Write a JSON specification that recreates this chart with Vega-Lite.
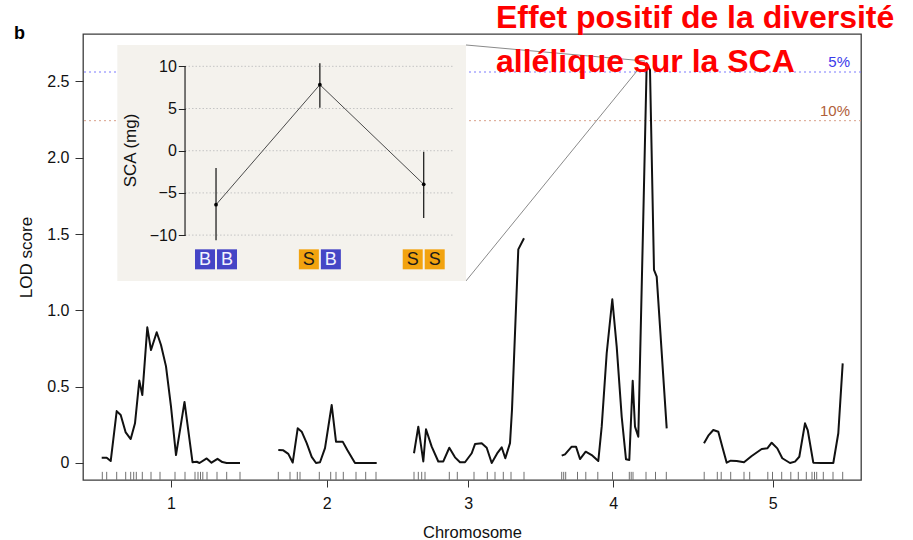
{
  "$schema": "https://vega.github.io/schema/vega-lite/v6.json",
  "width": 778,
  "height": 446,
  "autosize": {"type": "none"},
  "padding": {"left": 83, "top": 34, "right": 52, "bottom": 60},
  "background": "white",
  "config": {"font": "Liberation Sans", "view": {"stroke": "#3c3c3c", "strokeWidth": 1.3}},
  "datasets": {
    "lod": [
      {"chr": 1, "pos": 18.7, "lod": 0.035}, {"chr": 1, "pos": 23.7, "lod": 0.035}, {"chr": 1, "pos": 27.7, "lod": 0.013},
      {"chr": 1, "pos": 33.7, "lod": 0.34}, {"chr": 1, "pos": 37.7, "lod": 0.315}, {"chr": 1, "pos": 42.7, "lod": 0.2},
      {"chr": 1, "pos": 47.7, "lod": 0.157}, {"chr": 1, "pos": 52, "lod": 0.26}, {"chr": 1, "pos": 56.3, "lod": 0.54},
      {"chr": 1, "pos": 59.3, "lod": 0.445}, {"chr": 1, "pos": 64.3, "lod": 0.889}, {"chr": 1, "pos": 68, "lod": 0.74},
      {"chr": 1, "pos": 73.7, "lod": 0.857}, {"chr": 1, "pos": 78, "lod": 0.773}, {"chr": 1, "pos": 83, "lod": 0.633},
      {"chr": 1, "pos": 88, "lod": 0.369}, {"chr": 1, "pos": 93, "lod": 0.052}, {"chr": 1, "pos": 101.5, "lod": 0.4},
      {"chr": 1, "pos": 109.5, "lod": 0.005}, {"chr": 1, "pos": 113.7, "lod": 0.008}, {"chr": 1, "pos": 116.5, "lod": 0.0},
      {"chr": 1, "pos": 123.7, "lod": 0.03}, {"chr": 1, "pos": 128.5, "lod": 0.002}, {"chr": 1, "pos": 134.5, "lod": 0.027},
      {"chr": 1, "pos": 139.3, "lod": 0.006}, {"chr": 1, "pos": 143.7, "lod": 0.0}, {"chr": 1, "pos": 157, "lod": 0.0},
      {"chr": 2, "pos": 195.3, "lod": 0.085}, {"chr": 2, "pos": 200.3, "lod": 0.083}, {"chr": 2, "pos": 205.3, "lod": 0.06},
      {"chr": 2, "pos": 209.7, "lod": 0.003}, {"chr": 2, "pos": 214.7, "lod": 0.227}, {"chr": 2, "pos": 218.7, "lod": 0.205},
      {"chr": 2, "pos": 223.7, "lod": 0.13}, {"chr": 2, "pos": 228.7, "lod": 0.04}, {"chr": 2, "pos": 233, "lod": 0.0},
      {"chr": 2, "pos": 237, "lod": 0.005}, {"chr": 2, "pos": 242, "lod": 0.098}, {"chr": 2, "pos": 248.7, "lod": 0.38},
      {"chr": 2, "pos": 253, "lod": 0.14}, {"chr": 2, "pos": 259.7, "lod": 0.14}, {"chr": 2, "pos": 264.3, "lod": 0.085},
      {"chr": 2, "pos": 272, "lod": 0.0}, {"chr": 2, "pos": 293.7, "lod": 0.0},
      {"chr": 3, "pos": 331, "lod": 0.064}, {"chr": 3, "pos": 335.3, "lod": 0.238}, {"chr": 3, "pos": 340.3, "lod": 0.01},
      {"chr": 3, "pos": 343, "lod": 0.221}, {"chr": 3, "pos": 348.7, "lod": 0.107}, {"chr": 3, "pos": 355.3, "lod": 0.01},
      {"chr": 3, "pos": 360.3, "lod": 0.01}, {"chr": 3, "pos": 366.3, "lod": 0.1}, {"chr": 3, "pos": 372, "lod": 0.037},
      {"chr": 3, "pos": 377, "lod": 0.005}, {"chr": 3, "pos": 382, "lod": 0.005}, {"chr": 3, "pos": 388.7, "lod": 0.064},
      {"chr": 3, "pos": 392, "lod": 0.124}, {"chr": 3, "pos": 398.7, "lod": 0.129}, {"chr": 3, "pos": 403.7, "lod": 0.1},
      {"chr": 3, "pos": 408.7, "lod": 0.0}, {"chr": 3, "pos": 414.7, "lod": 0.068}, {"chr": 3, "pos": 418.7, "lod": 0.103},
      {"chr": 3, "pos": 422.3, "lod": 0.031}, {"chr": 3, "pos": 427, "lod": 0.13}, {"chr": 3, "pos": 429, "lod": 0.35},
      {"chr": 3, "pos": 435.3, "lod": 1.4}, {"chr": 3, "pos": 441, "lod": 1.473},
      {"chr": 4, "pos": 478.7, "lod": 0.048}, {"chr": 4, "pos": 482, "lod": 0.057}, {"chr": 4, "pos": 488.7, "lod": 0.107},
      {"chr": 4, "pos": 493, "lod": 0.107}, {"chr": 4, "pos": 497, "lod": 0.026}, {"chr": 4, "pos": 502.7, "lod": 0.074},
      {"chr": 4, "pos": 508.7, "lod": 0.052}, {"chr": 4, "pos": 515.3, "lod": 0.013}, {"chr": 4, "pos": 518.7, "lod": 0.238},
      {"chr": 4, "pos": 523.7, "lod": 0.719}, {"chr": 4, "pos": 529.3, "lod": 1.073}, {"chr": 4, "pos": 533.7, "lod": 0.762},
      {"chr": 4, "pos": 538.7, "lod": 0.303}, {"chr": 4, "pos": 543, "lod": 0.024}, {"chr": 4, "pos": 546.3, "lod": 0.02},
      {"chr": 4, "pos": 549.7, "lod": 0.539}, {"chr": 4, "pos": 552, "lod": 0.238}, {"chr": 4, "pos": 555.3, "lod": 0.172},
      {"chr": 4, "pos": 560.3, "lod": 1.614}, {"chr": 4, "pos": 563.7, "lod": 2.619}, {"chr": 4, "pos": 567, "lod": 2.575},
      {"chr": 4, "pos": 571, "lod": 1.265}, {"chr": 4, "pos": 573.7, "lod": 1.221}, {"chr": 4, "pos": 583.7, "lod": 0.227},
      {"chr": 5, "pos": 621, "lod": 0.129}, {"chr": 5, "pos": 625.3, "lod": 0.179}, {"chr": 5, "pos": 630.3, "lod": 0.216},
      {"chr": 5, "pos": 635.3, "lod": 0.205}, {"chr": 5, "pos": 639.3, "lod": 0.107}, {"chr": 5, "pos": 643.7, "lod": 0.002},
      {"chr": 5, "pos": 647.7, "lod": 0.015}, {"chr": 5, "pos": 653.7, "lod": 0.013}, {"chr": 5, "pos": 661, "lod": 0.005},
      {"chr": 5, "pos": 668.7, "lod": 0.046}, {"chr": 5, "pos": 678.7, "lod": 0.092}, {"chr": 5, "pos": 684.3, "lod": 0.096},
      {"chr": 5, "pos": 688.7, "lod": 0.133}, {"chr": 5, "pos": 694.3, "lod": 0.096}, {"chr": 5, "pos": 699.3, "lod": 0.031},
      {"chr": 5, "pos": 707, "lod": 0.0}, {"chr": 5, "pos": 712, "lod": 0.009}, {"chr": 5, "pos": 716.3, "lod": 0.041},
      {"chr": 5, "pos": 722, "lod": 0.26}, {"chr": 5, "pos": 724.7, "lod": 0.216}, {"chr": 5, "pos": 730.3, "lod": 0.002},
      {"chr": 5, "pos": 738.7, "lod": 0.0}, {"chr": 5, "pos": 750.3, "lod": 0.0}, {"chr": 5, "pos": 755.3, "lod": 0.195},
      {"chr": 5, "pos": 759.7, "lod": 0.653}
    ],
    "markers": [
      {"chr": 1, "pos": 19.3}, {"chr": 1, "pos": 23.7}, {"chr": 1, "pos": 33.7}, {"chr": 1, "pos": 42.7}, {"chr": 1, "pos": 47.7},
      {"chr": 1, "pos": 50.7}, {"chr": 1, "pos": 53.3}, {"chr": 1, "pos": 59.3}, {"chr": 1, "pos": 68}, {"chr": 1, "pos": 77},
      {"chr": 1, "pos": 92}, {"chr": 1, "pos": 102}, {"chr": 1, "pos": 112}, {"chr": 1, "pos": 115}, {"chr": 1, "pos": 117.5},
      {"chr": 1, "pos": 119.8}, {"chr": 1, "pos": 124}, {"chr": 1, "pos": 134}, {"chr": 1, "pos": 143.7}, {"chr": 1, "pos": 157},
      {"chr": 2, "pos": 195.3}, {"chr": 2, "pos": 207}, {"chr": 2, "pos": 214.3}, {"chr": 2, "pos": 217}, {"chr": 2, "pos": 236.3},
      {"chr": 2, "pos": 247.7}, {"chr": 2, "pos": 253}, {"chr": 2, "pos": 260.3}, {"chr": 2, "pos": 273}, {"chr": 2, "pos": 282.7},
      {"chr": 2, "pos": 293},
      {"chr": 3, "pos": 331}, {"chr": 3, "pos": 335.3}, {"chr": 3, "pos": 338.7}, {"chr": 3, "pos": 342}, {"chr": 3, "pos": 366.3},
      {"chr": 3, "pos": 374.3}, {"chr": 3, "pos": 391}, {"chr": 3, "pos": 404.3}, {"chr": 3, "pos": 412}, {"chr": 3, "pos": 420.3},
      {"chr": 3, "pos": 428}, {"chr": 3, "pos": 441},
      {"chr": 4, "pos": 478.7}, {"chr": 4, "pos": 480.7}, {"chr": 4, "pos": 482.7}, {"chr": 4, "pos": 494.5}, {"chr": 4, "pos": 502.8},
      {"chr": 4, "pos": 514.8}, {"chr": 4, "pos": 529.5}, {"chr": 4, "pos": 546.3}, {"chr": 4, "pos": 548.2}, {"chr": 4, "pos": 550},
      {"chr": 4, "pos": 563}, {"chr": 4, "pos": 572.5}, {"chr": 4, "pos": 583.3},
      {"chr": 5, "pos": 621.2}, {"chr": 5, "pos": 634.3}, {"chr": 5, "pos": 638.2}, {"chr": 5, "pos": 647.7}, {"chr": 5, "pos": 661},
      {"chr": 5, "pos": 666.7}, {"chr": 5, "pos": 684.8}, {"chr": 5, "pos": 689.5}, {"chr": 5, "pos": 698.7}, {"chr": 5, "pos": 707.8},
      {"chr": 5, "pos": 715.3}, {"chr": 5, "pos": 723.3}, {"chr": 5, "pos": 729}, {"chr": 5, "pos": 731.5}, {"chr": 5, "pos": 733.7},
      {"chr": 5, "pos": 740.3}, {"chr": 5, "pos": 750}, {"chr": 5, "pos": 759.7}
    ],
    "thresholds": [{"level": "5%", "lod": 2.562}, {"level": "10%", "lod": 2.243}],
    "effects": [
      {"geno": "BB", "g": 1, "sca": -6.4, "lo": -10.6, "hi": -2.05},
      {"geno": "SB", "g": 2, "sca": 7.82, "lo": 5.1, "hi": 10.35},
      {"geno": "SS", "g": 3, "sca": -3.98, "lo": -7.97, "hi": -0.12}
    ],
    "alleles": [
      {"geno": "BB", "g": 1, "slot": "L", "allele": "B"}, {"geno": "BB", "g": 1, "slot": "R", "allele": "B"},
      {"geno": "SB", "g": 2, "slot": "L", "allele": "S"}, {"geno": "SB", "g": 2, "slot": "R", "allele": "B"},
      {"geno": "SS", "g": 3, "slot": "L", "allele": "S"}, {"geno": "SS", "g": 3, "slot": "R", "allele": "S"}
    ],
    "scaTicks": [{"v": -10}, {"v": -5}, {"v": 0}, {"v": 5}, {"v": 10}]
  },
  "layer": [
    {
      "layer": [
        {
          "data": {"name": "thresholds"},
          "mark": {"type": "rule", "strokeWidth": 1, "strokeDash": [2, 3]},
          "encoding": {
            "y": {"field": "lod", "type": "quantitative", "scale": {"domain": [-0.1114, 2.811], "nice": false, "zero": false}},
            "stroke": {"field": "level", "type": "nominal", "scale": {"domain": ["5%", "10%"], "range": ["#7b7bff", "#d9a08a"]}, "legend": null}
          }
        },
        {
          "data": {"name": "thresholds"},
          "mark": {"type": "text", "align": "right", "baseline": "middle", "dy": -10, "fontSize": 15},
          "encoding": {
            "x": {"datum": 767, "type": "quantitative", "scale": {"domain": [0, 778], "nice": false, "zero": false}},
            "y": {"field": "lod", "type": "quantitative", "scale": {"domain": [-0.1114, 2.811], "nice": false, "zero": false}},
            "text": {"field": "level"},
            "fill": {"field": "level", "type": "nominal", "scale": {"domain": ["5%", "10%"], "range": ["#3b3bea", "#b0603a"]}, "legend": null}
          }
        },
        {
          "data": {"name": "markers"},
          "mark": {"type": "rule", "color": "#707070", "strokeWidth": 1},
          "encoding": {
            "x": {"field": "pos", "type": "quantitative", "scale": {"domain": [0, 778], "nice": false, "zero": false}},
            "y": {"datum": -0.1114, "type": "quantitative", "scale": {"domain": [-0.1114, 2.811], "nice": false, "zero": false}},
            "y2": {"datum": -0.058}
          }
        },
        {
          "data": {"name": "lod"},
          "mark": {"type": "line", "color": "#111111", "strokeWidth": 2, "strokeJoin": "round"},
          "encoding": {
            "x": {"field": "pos", "type": "quantitative", "scale": {"domain": [0, 778], "nice": false, "zero": false},
              "axis": {"values": [88, 243.7, 385.3, 530.3, 689.7], "labelExpr": "'' + (indexof([88, 243.7, 385.3, 530.3, 689.7], datum.value) + 1)",
                "domain": false, "grid": false, "tickSize": 7, "tickColor": "#333333", "labelFontSize": 16, "labelPadding": 8, "labelColor": "#111111",
                "title": "Chromosome", "titleFontSize": 16.5, "titleFontWeight": "normal", "titlePadding": 13, "titleColor": "#111111"}},
            "y": {"field": "lod", "type": "quantitative", "scale": {"domain": [-0.1114, 2.811], "nice": false, "zero": false},
              "axis": {"values": [0, 0.5, 1, 1.5, 2, 2.5], "labelExpr": "datum.value == 0 ? '0' : format(datum.value, '.1f')",
                "domain": false, "grid": false, "tickSize": 8, "tickColor": "#333333", "labelFontSize": 16, "labelPadding": 6, "labelColor": "#111111",
                "title": "LOD score", "titleFontSize": 17, "titleFontWeight": "normal", "titlePadding": 11, "titleColor": "#111111"}},
            "detail": {"field": "chr", "type": "nominal"}
          }
        },
        {
          "data": {"values": [{}]},
          "mark": {"type": "rule", "color": "#8a8a8a", "strokeWidth": 1},
          "encoding": {
            "x": {"datum": 383, "type": "quantitative", "scale": {"domain": [0, 778], "nice": false, "zero": false}},
            "y": {"datum": 2.739, "type": "quantitative", "scale": {"domain": [-0.1114, 2.811], "nice": false, "zero": false}},
            "x2": {"datum": 562},
            "y2": {"datum": 2.634}
          }
        },
        {
          "data": {"values": [{}]},
          "mark": {"type": "rule", "color": "#8a8a8a", "strokeWidth": 1},
          "encoding": {
            "x": {"datum": 383, "type": "quantitative", "scale": {"domain": [0, 778], "nice": false, "zero": false}},
            "y": {"datum": 1.193, "type": "quantitative", "scale": {"domain": [-0.1114, 2.811], "nice": false, "zero": false}},
            "x2": {"datum": 554},
            "y2": {"datum": 2.569}
          }
        },
        {
          "data": {"values": [{}]},
          "mark": {"type": "text", "text": "b", "align": "left", "baseline": "alphabetic", "fontSize": 18, "fontWeight": "bold", "color": "#000000"},
          "encoding": {
            "x": {"datum": -69, "type": "quantitative", "scale": {"domain": [0, 778], "nice": false, "zero": false}},
            "y": {"datum": 2.778, "type": "quantitative", "scale": {"domain": [-0.1114, 2.811], "nice": false, "zero": false}}
          }
        },
        {
          "data": {"values": [{}]},
          "mark": {"type": "text", "text": ["Effet positif de la diversité", "allélique sur la SCA"], "align": "left", "baseline": "alphabetic",
            "fontSize": 32, "fontWeight": "bold", "color": "#ff0000", "lineHeight": 43.4},
          "encoding": {
            "x": {"datum": 413, "type": "quantitative", "scale": {"domain": [0, 778], "nice": false, "zero": false}},
            "y": {"datum": 2.849, "type": "quantitative", "scale": {"domain": [-0.1114, 2.811], "nice": false, "zero": false}}
          }
        }
      ]
    },
    {
      "layer": [
        {
          "data": {"values": [{}]},
          "mark": {"type": "rect", "color": "#f4f2ed"},
          "encoding": {
            "x": {"datum": 0.0496, "type": "quantitative", "scale": {"domain": [-0.281, 7.211], "nice": false, "zero": false}, "axis": null},
            "x2": {"datum": 3.407},
            "y": {"datum": 12.525, "type": "quantitative", "scale": {"domain": [-39.02, 13.83], "nice": false, "zero": false}},
            "y2": {"datum": -15.44}
          }
        },
        {
          "data": {"name": "scaTicks"},
          "mark": {"type": "rule", "color": "#c4c4c4", "strokeWidth": 1, "strokeDash": [1.5, 2]},
          "encoding": {
            "x": {"datum": 0.7015, "type": "quantitative", "scale": {"domain": [-0.281, 7.211], "nice": false, "zero": false}, "axis": null},
            "x2": {"datum": 3.285},
            "y": {"field": "v", "type": "quantitative", "scale": {"domain": [-39.02, 13.83], "nice": false, "zero": false}}
          }
        },
        {
          "data": {"values": [{}]},
          "mark": {"type": "rule", "color": "#222222", "strokeWidth": 1.2},
          "encoding": {
            "x": {"datum": 0.7015, "type": "quantitative", "scale": {"domain": [-0.281, 7.211], "nice": false, "zero": false}, "axis": null},
            "y": {"datum": -10, "type": "quantitative", "scale": {"domain": [-39.02, 13.83], "nice": false, "zero": false}},
            "y2": {"datum": 10}
          }
        },
        {
          "data": {"name": "effects"},
          "mark": {"type": "line", "color": "#4a4a4a", "strokeWidth": 1},
          "encoding": {
            "x": {"field": "g", "type": "quantitative", "scale": {"domain": [-0.281, 7.211], "nice": false, "zero": false}, "axis": null},
            "y": {"field": "sca", "type": "quantitative", "scale": {"domain": [-39.02, 13.83], "nice": false, "zero": false},
              "axis": {"orient": "left", "offset": -102.3, "zindex": 1, "values": [-10, -5, 0, 5, 10], "domain": false, "grid": false,
                "tickSize": 7, "tickColor": "#222222", "labelFontSize": 16, "labelPadding": 2, "labelColor": "#111111",
                "title": "SCA (mg)", "titleFontSize": 17, "titleFontWeight": "normal", "titleColor": "#111111", "titlePadding": 10, "titleY": 116}}
          }
        },
        {
          "data": {"name": "effects"},
          "mark": {"type": "rule", "color": "#111111", "strokeWidth": 1.2},
          "encoding": {
            "x": {"field": "g", "type": "quantitative", "scale": {"domain": [-0.281, 7.211], "nice": false, "zero": false}, "axis": null},
            "y": {"field": "lo", "type": "quantitative", "scale": {"domain": [-39.02, 13.83], "nice": false, "zero": false}},
            "y2": {"field": "hi"}
          }
        },
        {
          "data": {"name": "effects"},
          "mark": {"type": "point", "filled": true, "color": "#000000", "size": 14, "opacity": 1},
          "encoding": {
            "x": {"field": "g", "type": "quantitative", "scale": {"domain": [-0.281, 7.211], "nice": false, "zero": false}, "axis": null},
            "y": {"field": "sca", "type": "quantitative", "scale": {"domain": [-39.02, 13.83], "nice": false, "zero": false}}
          }
        },
        {
          "data": {"name": "alleles"},
          "mark": {"type": "point", "filled": true, "size": 400, "opacity": 1, "strokeWidth": 0},
          "encoding": {
            "x": {"field": "g", "type": "quantitative", "scale": {"domain": [-0.281, 7.211], "nice": false, "zero": false}, "axis": null},
            "y": {"datum": -12.87, "type": "quantitative", "scale": {"domain": [-39.02, 13.83], "nice": false, "zero": false}},
            "shape": {"field": "slot", "type": "nominal", "scale": {"domain": ["L", "R"], "range": ["M-2.1,-1L-0.1,-1L-0.1,1L-2.1,1Z", "M0.1,-1L2.1,-1L2.1,1L0.1,1Z"]}, "legend": null},
            "fill": {"field": "allele", "type": "nominal", "scale": {"domain": ["B", "S"], "range": ["#4545c6", "#f2a30f"]}, "legend": null}
          }
        },
        {
          "data": {"name": "alleles"},
          "transform": [{"filter": "datum.slot == 'L'"}],
          "mark": {"type": "text", "dx": -11, "dy": 1, "baseline": "middle", "align": "center", "fontSize": 18},
          "encoding": {
            "x": {"field": "g", "type": "quantitative", "scale": {"domain": [-0.281, 7.211], "nice": false, "zero": false}, "axis": null},
            "y": {"datum": -12.87, "type": "quantitative", "scale": {"domain": [-39.02, 13.83], "nice": false, "zero": false}},
            "text": {"field": "allele"},
            "color": {"field": "allele", "type": "nominal", "scale": {"domain": ["B", "S"], "range": ["#f2f2ff", "#1a1a1a"]}, "legend": null}
          }
        },
        {
          "data": {"name": "alleles"},
          "transform": [{"filter": "datum.slot == 'R'"}],
          "mark": {"type": "text", "dx": 11, "dy": 1, "baseline": "middle", "align": "center", "fontSize": 18},
          "encoding": {
            "x": {"field": "g", "type": "quantitative", "scale": {"domain": [-0.281, 7.211], "nice": false, "zero": false}, "axis": null},
            "y": {"datum": -12.87, "type": "quantitative", "scale": {"domain": [-39.02, 13.83], "nice": false, "zero": false}},
            "text": {"field": "allele"},
            "color": {"field": "allele", "type": "nominal", "scale": {"domain": ["B", "S"], "range": ["#f2f2ff", "#1a1a1a"]}, "legend": null}
          }
        }
      ]
    }
  ],
  "resolve": {
    "scale": {"x": "independent", "y": "independent", "fill": "independent", "stroke": "independent", "color": "independent", "shape": "independent"},
    "axis": {"x": "independent", "y": "independent"}
  }
}
